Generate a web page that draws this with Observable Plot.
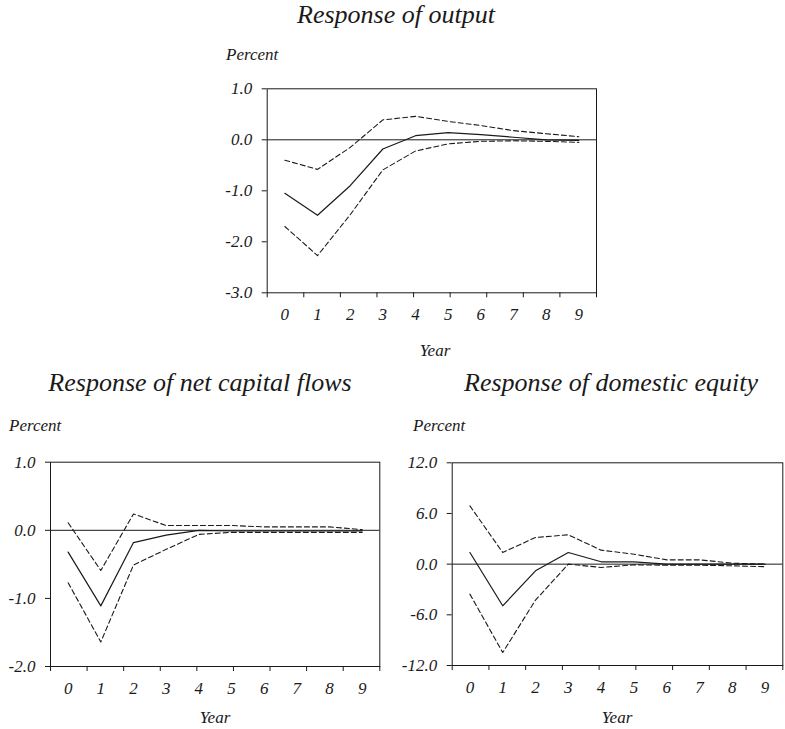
<!DOCTYPE html>
<html>
<head>
<meta charset="utf-8">
<script src="https://cdn.jsdelivr.net/npm/d3@7"></script>
<script src="https://cdn.jsdelivr.net/npm/@observablehq/plot@0.6"></script>
<style>
  html, body { margin: 0; padding: 0; background: #fff; }
  #wrap { position: relative; width: 785px; height: 729px; overflow: hidden; background: #fff;
          font-family: "Liberation Serif", "DejaVu Serif", serif; font-style: italic; color: #1a1a1a; }
  .t { position: absolute; white-space: nowrap; line-height: 1; }
  .title { font-size: 26px; transform: translateX(-50%); }
  .lab { font-size: 17px; }
  .ctr { transform: translateX(-50%); }
  .panel { position: absolute; }
</style>
</head>
<body>
<div id="wrap">
  <div class="t title" style="left:396px; top:2px;">Response of output</div>
  <div class="t title" style="left:200px; top:370px;">Response of net capital flows</div>
  <div class="t title" style="left:611px; top:370px;">Response of domestic equity</div>

  <div class="t lab" style="left:226px; top:46px;">Percent</div>
  <div class="t lab" style="left:9px; top:417px;">Percent</div>
  <div class="t lab" style="left:413px; top:417px;">Percent</div>

  <div class="t lab ctr" style="left:435px; top:342px;">Year</div>
  <div class="t lab ctr" style="left:215px; top:709px;">Year</div>
  <div class="t lab ctr" style="left:617px; top:709px;">Year</div>

  <div id="p1" class="panel" style="left:200px; top:70px;"></div>
  <div id="p2" class="panel" style="left:0px; top:440px;"></div>
  <div id="p3" class="panel" style="left:400px; top:440px;"></div>
</div>
<script>
// ---- data ----
const years = [0, 1, 2, 3, 4, 5, 6, 7, 8, 9];

// Response of output (percent)
const outputMid   = [-1.05, -1.48, -0.90, -0.18, 0.08, 0.14, 0.10, 0.05, 0.00, -0.01];
const outputUpper = [-0.40, -0.58, -0.15, 0.39, 0.46, 0.36, 0.28, 0.18, 0.12, 0.06];
const outputLower = [-1.70, -2.27, -1.47, -0.59, -0.22, -0.08, -0.03, -0.02, -0.03, -0.05];

// Response of net capital flows (percent)
const flowsMid   = [-0.32, -1.11, -0.18, -0.07, 0.00, -0.01, -0.01, -0.01, -0.01, -0.01];
const flowsUpper = [0.11, -0.59, 0.24, 0.07, 0.07, 0.07, 0.05, 0.05, 0.05, 0.01];
const flowsLower = [-0.77, -1.64, -0.51, -0.28, -0.06, -0.03, -0.03, -0.03, -0.03, -0.03];

// Response of domestic equity (percent)
const equityMid   = [1.38, -4.93, -0.79, 1.38, 0.28, 0.28, 0.00, 0.00, 0.00, 0.00];
const equityUpper = [6.90, 1.38, 3.16, 3.47, 1.66, 1.18, 0.51, 0.51, 0.12, 0.00];
const equityLower = [-3.55, -10.46, -4.26, 0.00, -0.39, -0.08, -0.12, -0.12, -0.20, -0.30];

// y-axis ticks
const outputTicks = [-3, -2, -1, 0, 1];
const flowsTicks  = [-2, -1, 0, 1];
const equityTicks = [-12, -6, 0, 6, 12];

// ---- drawing ----
const ink = "#1a1a1a";
const serif = '"Liberation Serif", "DejaVu Serif", serif';
const txt = {fontFamily: serif, fontStyle: "italic", fontSize: 17};
const xDomain = [-0.54, 9.54];
const boundaryTicks = d3.range(10).map(i => xDomain[0] + i * (xDomain[1] - xDomain[0]) / 9);

function panel({mid, upper, lower, yDomain, yTicks, width, height, ml, mr, mt, mb}) {
  const rows = years.map((yr, i) => ({year: yr, mid: mid[i], upper: upper[i], lower: lower[i]}));
  return Plot.plot({
    width, height,
    marginLeft: ml, marginRight: mr, marginTop: mt, marginBottom: mb,
    style: {
      fontFamily: serif,
      fontStyle: "italic",
      fontSize: "17px",
      color: ink,
      background: "transparent",
      overflow: "visible"
    },
    x: {domain: xDomain, axis: null},
    y: {domain: yDomain, axis: null},
    marks: [
      Plot.ruleY([0], {stroke: ink, strokeWidth: 1}),
      Plot.line(rows, {x: "year", y: "upper", stroke: ink, strokeWidth: 1.1, strokeDasharray: "5,3"}),
      Plot.line(rows, {x: "year", y: "lower", stroke: ink, strokeWidth: 1.1, strokeDasharray: "5,3"}),
      Plot.line(rows, {x: "year", y: "mid", stroke: ink, strokeWidth: 1.2}),
      Plot.frame({stroke: ink, strokeWidth: 1}),
      Plot.axisX(boundaryTicks, {tickSize: 5, tickFormat: () => "", label: null, stroke: ink, strokeWidth: 1}),
      Plot.axisX(years, {...txt, tickSize: 0, tickPadding: 15, tickFormat: d => String(d), label: null, fill: ink}),
      Plot.axisY(yTicks, {...txt, tickSize: 5, tickPadding: 10, tickFormat: d => d.toFixed(1), label: null, stroke: ink, fill: ink})
    ]
  });
}

document.getElementById("p1").append(panel({
  mid: outputMid, upper: outputUpper, lower: outputLower,
  yDomain: [-3, 1], yTicks: outputTicks,
  width: 420, height: 250, ml: 66.7, mr: 24, mt: 18.3, mb: 27.7
}));
document.getElementById("p2").append(panel({
  mid: flowsMid, upper: flowsUpper, lower: flowsLower,
  yDomain: [-2, 1], yTicks: flowsTicks,
  width: 400, height: 250, ml: 50, mr: 20.7, mt: 21.7, mb: 24
}));
document.getElementById("p3").append(panel({
  mid: equityMid, upper: equityUpper, lower: equityLower,
  yDomain: [-12, 12], yTicks: equityTicks,
  width: 385, height: 250, ml: 51.7, mr: 2.7, mt: 22.3, mb: 25
}));
</script>
</body>
</html>
